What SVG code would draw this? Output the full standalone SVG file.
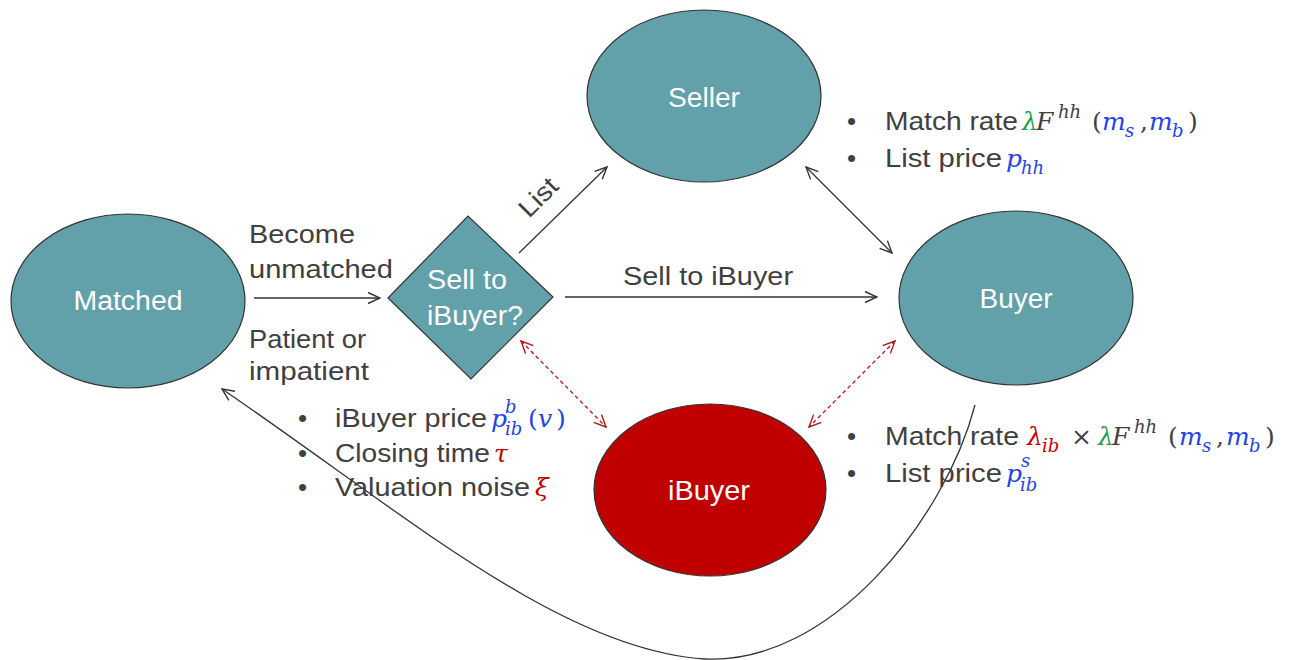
<svg xmlns="http://www.w3.org/2000/svg" width="1293" height="660" viewBox="0 0 1293 660">
  <defs>
    <style>
      .node { fill: #62a1a9; stroke: #333; stroke-width: 1.2; }
      .node-red { fill: #c00000; stroke: #333; stroke-width: 1.2; }
      .lbl { font-family: "Liberation Sans", Arial, sans-serif; font-size: 27px; fill: #ffffff; text-anchor: middle; }
      .txt { font-family: "Liberation Sans", Arial, sans-serif; font-size: 26px; fill: #404040; }
      .math { font-family: "DejaVu Serif", "Liberation Serif", serif; font-style: italic; font-size: 25px; }
      .up { font-family: "DejaVu Serif", "Liberation Serif", serif; font-style: normal; font-size: 25px; fill: #404040; }
      .sub { font-size: 18px; }
      .g { fill: #1aa04a; }
      .b { fill: #2443e6; }
      .r { fill: #c00000; }
      .k { fill: #404040; }
      .line { fill: none; stroke: #333; stroke-width: 1.3; }
      .dash { fill: none; stroke: #b01818; stroke-width: 1.3; stroke-dasharray: 4 3; }
    </style>
    <marker id="arrow" viewBox="0 0 14 14" refX="13" refY="7" markerWidth="14" markerHeight="14" markerUnits="userSpaceOnUse" orient="auto-start-reverse">
      <path d="M1,1.5 L13,7 L1,12.5" fill="none" stroke="#333" stroke-width="1.4"/>
    </marker>
    <marker id="arrow-red" viewBox="0 0 14 14" refX="13" refY="7" markerWidth="14" markerHeight="14" markerUnits="userSpaceOnUse" orient="auto-start-reverse">
      <path d="M1,1.5 L13,7 L1,12.5" fill="none" stroke="#b01818" stroke-width="1.4"/>
    </marker>
  </defs>

  <rect width="1293" height="660" fill="#ffffff"/>

  <!-- connectors -->
  <g id="connectors">
    <line class="line" x1="254" y1="298" x2="380" y2="298" marker-end="url(#arrow)"/>
    <line class="line" x1="519" y1="253" x2="607" y2="167" marker-end="url(#arrow)"/>
    <line class="line" x1="565" y1="297" x2="877" y2="297" marker-end="url(#arrow)"/>
    <line class="line" x1="806" y1="167" x2="892" y2="253" marker-start="url(#arrow)" marker-end="url(#arrow)"/>
    <line class="dash" x1="521" y1="341" x2="606" y2="427" marker-start="url(#arrow-red)" marker-end="url(#arrow-red)"/>
    <line class="dash" x1="895" y1="341" x2="809" y2="427" marker-start="url(#arrow-red)" marker-end="url(#arrow-red)"/>
    <path class="line" d="M975,405 C945,520 830,665 705,659 C560,650 400,510 222,389" marker-end="url(#arrow)"/>
    <text class="txt" x="529" y="219" transform="rotate(-45 529 219)" textLength="44" lengthAdjust="spacingAndGlyphs">List</text>
    <text class="txt" x="623" y="285" textLength="170" lengthAdjust="spacingAndGlyphs">Sell to iBuyer</text>
    <text class="txt" x="249" y="243" textLength="106" lengthAdjust="spacingAndGlyphs">Become</text>
    <text class="txt" x="249" y="278" textLength="144" lengthAdjust="spacingAndGlyphs">unmatched</text>
    <text class="txt" x="249" y="348" textLength="117" lengthAdjust="spacingAndGlyphs">Patient or</text>
    <text class="txt" x="249" y="380" textLength="120" lengthAdjust="spacingAndGlyphs">impatient</text>
  </g>

  <!-- nodes -->
  <g id="matched">
    <ellipse class="node" cx="128" cy="301" rx="117" ry="87"/>
    <text class="lbl" x="128" y="310" textLength="109" lengthAdjust="spacingAndGlyphs">Matched</text>
  </g>
  <g id="decision">
    <polygon class="node" points="388,298 468,216 553,297 471,379"/>
    <text class="lbl" x="467" y="289" textLength="80" lengthAdjust="spacingAndGlyphs">Sell to</text>
    <text class="lbl" x="475" y="325" textLength="96" lengthAdjust="spacingAndGlyphs">iBuyer?</text>
  </g>
  <g id="seller">
    <ellipse class="node" cx="704" cy="96" rx="117" ry="86"/>
    <text class="lbl" x="704" y="107" textLength="72" lengthAdjust="spacingAndGlyphs">Seller</text>
  </g>
  <g id="buyer">
    <ellipse class="node" cx="1016" cy="298" rx="117" ry="87"/>
    <text class="lbl" x="1016" y="308" textLength="73" lengthAdjust="spacingAndGlyphs">Buyer</text>
  </g>
  <g id="ibuyer">
    <ellipse class="node-red" cx="710" cy="490" rx="116" ry="86"/>
    <text class="lbl" x="709" y="500" textLength="82" lengthAdjust="spacingAndGlyphs">iBuyer</text>
  </g>

  <!-- annotations: seller/buyer market -->
  <g id="notes-market">
    <text class="txt" x="847" y="130">•</text>
    <text class="txt" x="885" y="130" textLength="133" lengthAdjust="spacingAndGlyphs">Match rate</text>
    <text class="math g" x="1022" y="130">λ</text>
    <text class="math k" x="1036" y="130">F</text>
    <text class="math k sub" x="1058" y="118">hh</text>
    <text class="up" x="1092" y="130">(</text>
    <text class="math b" x="1102" y="130">m</text>
    <text class="math b sub" x="1125" y="137">s</text>
    <text class="up" x="1140" y="130">,</text>
    <text class="math b" x="1149" y="130">m</text>
    <text class="math b sub" x="1172" y="137">b</text>
    <text class="up" x="1188" y="130">)</text>

    <text class="txt" x="847" y="167">•</text>
    <text class="txt" x="885" y="167" textLength="117" lengthAdjust="spacingAndGlyphs">List price</text>
    <text class="math b" x="1006" y="167">p</text>
    <text class="math b sub" x="1021" y="174">hh</text>
  </g>

  <!-- annotations: iBuyer market -->
  <g id="notes-ibuyer">
    <text class="txt" x="847" y="445">•</text>
    <text class="txt" x="885" y="445" textLength="134" lengthAdjust="spacingAndGlyphs">Match rate</text>
    <text class="math r" x="1027" y="445">λ</text>
    <text class="math r sub" x="1042" y="452">ib</text>
    <text class="up" x="1071" y="445">×</text>
    <text class="math g" x="1098" y="445">λ</text>
    <text class="math k" x="1112" y="445">F</text>
    <text class="math k sub" x="1134" y="433">hh</text>
    <text class="up" x="1168" y="445">(</text>
    <text class="math b" x="1179" y="445">m</text>
    <text class="math b sub" x="1202" y="452">s</text>
    <text class="up" x="1216" y="445">,</text>
    <text class="math b" x="1226" y="445">m</text>
    <text class="math b sub" x="1249" y="452">b</text>
    <text class="up" x="1265" y="445">)</text>

    <text class="txt" x="847" y="482">•</text>
    <text class="txt" x="885" y="482" textLength="117" lengthAdjust="spacingAndGlyphs">List price</text>
    <text class="math b" x="1006" y="482">p</text>
    <text class="math b sub" x="1021" y="467">s</text>
    <text class="math b sub" x="1020" y="491">ib</text>
  </g>

  <!-- annotations: iBuyer offer -->
  <g id="notes-offer">
    <text class="txt" x="298" y="427">•</text>
    <text class="txt" x="335" y="427" textLength="152" lengthAdjust="spacingAndGlyphs">iBuyer price</text>
    <text class="math b" x="491" y="427">p</text>
    <text class="math b sub" x="505" y="413">b</text>
    <text class="math b sub" x="505" y="435">ib</text>
    <text class="up b" x="528" y="427">(</text>
    <text class="math b" x="538" y="427">v</text>
    <text class="up b" x="556" y="427">)</text>

    <text class="txt" x="298" y="462">•</text>
    <text class="txt" x="335" y="462" textLength="155" lengthAdjust="spacingAndGlyphs">Closing time</text>
    <text class="math r" x="494" y="462">τ</text>

    <text class="txt" x="298" y="496">•</text>
    <text class="txt" x="335" y="496" textLength="195" lengthAdjust="spacingAndGlyphs">Valuation noise</text>
    <text class="math r" x="535" y="496">ξ</text>
  </g>
</svg>
